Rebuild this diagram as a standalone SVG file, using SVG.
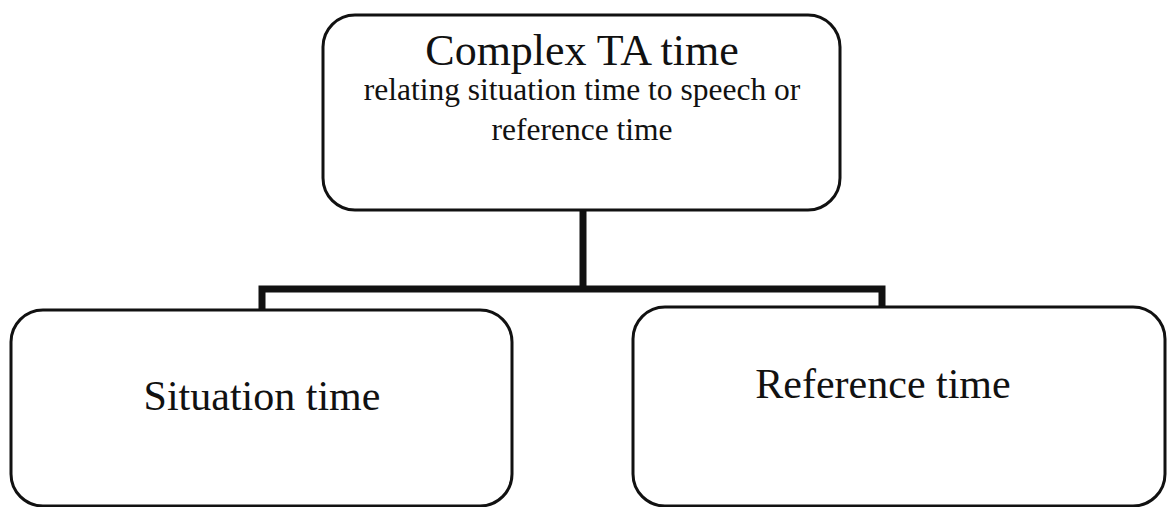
<svg xmlns="http://www.w3.org/2000/svg" width="1168" height="507" viewBox="0 0 1168 507">
<style>
.box{fill:#fff;stroke:#111;stroke-width:3}
.conn{fill:none;stroke:#111;stroke-width:7;stroke-linejoin:miter}
text{font-family:"Liberation Serif","Times New Roman",serif;fill:#111;text-anchor:middle}
.big{font-size:42px}
.top{font-size:44px}
.sub{font-size:31.5px}
</style>
<rect width="1168" height="507" fill="#fff"/>
<g id="connectors">
<path class="conn" d="M583,210 V289 M262,312 V289 H882 V309"/>
</g>
<g id="node-complex">
<rect class="box" x="323" y="15" width="517" height="195" rx="32"/>
<text class="top" x="582" y="65">Complex TA time</text>
<text class="sub" x="582" y="100">relating situation time to speech or</text>
<text class="sub" x="582" y="140">reference time</text>
</g>
<g id="node-situation">
<rect class="box" x="11" y="310" width="501" height="196" rx="32"/>
<text class="big" x="262" y="410">Situation time</text>
</g>
<g id="node-reference">
<rect class="box" x="633" y="307" width="532" height="199" rx="32"/>
<text class="big" x="883" y="398">Reference time</text>
</g>
</svg>
